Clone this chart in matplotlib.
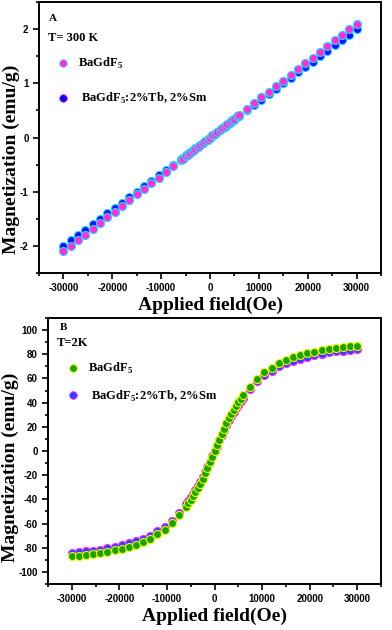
import matplotlib
matplotlib.use("Agg")
import matplotlib.pyplot as plt
from matplotlib.ticker import MultipleLocator, AutoMinorLocator

plt.rcParams['mathtext.fontset'] = 'custom'
plt.rcParams['mathtext.rm'] = 'Liberation Serif:bold'
plt.rcParams['mathtext.bf'] = 'Liberation Serif:bold'
plt.rcParams['axes.unicode_minus'] = False

# Applied field (Oe): coarse steps outside, dense steps around zero
field = [-30000, -28500, -27000, -25500, -24000, -22500, -21000, -19500,
         -18000, -16500, -15000, -13500, -12000, -10500, -9000, -7500,
         -6000, -5500, -5000, -4500, -4000, -3500, -3000, -2500, -2000,
         -1500, -1000, -500, 0, 500, 1000, 1500, 2000, 2500, 3000, 3500,
         4000, 4500, 5000, 5500, 6000,
         7500, 9000, 10500, 12000, 13500, 15000, 16500, 18000, 19500,
         21000, 22500, 24000, 25500, 27000, 28500, 30000]

# Panel A: T = 300 K
m300_pure = [-2.10, -2.00, -1.89, -1.79, -1.68, -1.58, -1.47, -1.37,
             -1.26, -1.16, -1.05, -0.95, -0.84, -0.74, -0.63, -0.53,
             -0.42, -0.39, -0.35, -0.32, -0.28, -0.25, -0.21, -0.18, -0.14,
             -0.11, -0.07, -0.04, 0.00, 0.04, 0.07, 0.11, 0.14, 0.18, 0.21, 0.25,
             0.28, 0.32, 0.35, 0.39, 0.42,
             0.53, 0.63, 0.74, 0.84, 0.95, 1.05, 1.16, 1.26, 1.37,
             1.47, 1.58, 1.68, 1.79, 1.89, 2.00, 2.10]
m300_doped = [-2.00, -1.90, -1.80, -1.70, -1.60, -1.50, -1.40, -1.30,
              -1.20, -1.10, -1.00, -0.90, -0.80, -0.70, -0.60, -0.50,
              -0.40, -0.37, -0.33, -0.30, -0.27, -0.23, -0.20, -0.17, -0.13,
              -0.10, -0.07, -0.03, 0.00, 0.03, 0.07, 0.10, 0.13, 0.17, 0.20, 0.23,
              0.27, 0.30, 0.33, 0.37, 0.40,
              0.50, 0.60, 0.70, 0.80, 0.90, 1.00, 1.10, 1.20, 1.30,
              1.40, 1.50, 1.60, 1.70, 1.80, 1.90, 2.00]

# Panel B: T = 2 K
m2_pure = [-87.0, -86.5, -86.0, -85.0, -84.5, -83.5, -82.0, -81.0,
           -79.5, -77.5, -75.0, -72.5, -69.0, -65.0, -59.5, -53.0,
           -46.0, -43.3, -40.5, -37.3, -34.0, -30.5, -27.0, -23.0, -18.5,
           -14.0, -9.4, -4.7, 0.0, 4.7, 9.4, 14.0, 18.5, 23.0, 27.0, 30.5,
           34.0, 37.3, 40.5, 43.3, 46.0,
           53.0, 59.5, 65.0, 69.0, 72.5, 75.0, 77.5, 79.5, 81.0,
           82.0, 83.5, 84.5, 85.0, 86.0, 86.5, 87.0]
m2_doped = [-84.0, -83.5, -83.0, -82.5, -81.5, -80.5, -79.5, -78.0,
            -76.5, -74.5, -72.5, -70.0, -66.5, -62.5, -57.5, -51.0,
            -43.7, -41.1, -38.4, -35.4, -32.3, -29.0, -25.6, -21.8, -17.5,
            -13.3, -8.9, -4.4, 0.0, 4.4, 8.9, 13.3, 17.5, 21.8, 25.6, 29.0,
            32.3, 35.4, 38.4, 41.1, 43.7,
            51.0, 57.5, 62.5, 66.5, 70.0, 72.5, 74.5, 76.5, 78.0,
            79.5, 80.5, 81.5, 82.5, 83.0, 83.5, 84.0]

label_pure = r'BaGdF$_5$'
label_doped = r' BaGdF$_5$:2%Tb, 2%Sm'

serif = 'Liberation Serif'
sans = 'Liberation Sans'

fig = plt.figure(figsize=(3.92, 6.30), dpi=100)


def style_axes(ax):
    for sp in ax.spines.values():
        sp.set_linewidth(1.4)
    ax.tick_params(which='both', direction='out', top=False, right=False, width=1.2)
    ax.tick_params(which='major', length=4)
    ax.tick_params(which='minor', length=2.5)
    ax.xaxis.set_major_locator(MultipleLocator(10000))
    ax.xaxis.set_minor_locator(AutoMinorLocator(2))
    ax.yaxis.set_minor_locator(AutoMinorLocator(2))
    ax.set_xlim(-35000, 35000)
    for lab in ax.get_xticklabels() + ax.get_yticklabels():
        lab.set_fontfamily(sans)
        lab.set_fontweight('bold')
        lab.set_fontsize(7)
    ax.set_xlabel('Applied field(Oe)', family=serif, weight='bold', fontsize=14, labelpad=2)
    ax.set_ylabel('Magnetization (emu/g)', family=serif, weight='bold', fontsize=14)


# ---- Panel A ----
axA = fig.add_axes([39/392, 1-273/630, 342/392, 271/630])
axA.plot(field, m300_doped, 'o', ms=5.8, mfc='#1010ff', mec='#30d0ff', mew=0.8)
axA.plot(field, m300_pure, 'o', ms=5.8, mfc='#ff30d8', mec='#30d0ff', mew=0.8)
axA.set_ylim(-2.5, 2.5)
axA.yaxis.set_major_locator(MultipleLocator(1))
style_axes(axA)
axA.yaxis.set_label_coords(-0.057, 0.42)
axA.text(0.028, 0.94, 'A', transform=axA.transAxes, family=serif, weight='bold', fontsize=8, va='center')
axA.text(0.026, 0.867, 'T= 300 K', transform=axA.transAxes, family=serif, weight='bold', fontsize=9, va='center')
legA_pure = plt.Line2D([], [], ls='', marker='o', ms=5.5, mfc='#ff30d8', mec='#30e0ff', mew=0.6)
legA_doped = plt.Line2D([], [], ls='', marker='o', ms=5.5, mfc='#0000ff', mec='#ff30d8', mew=0.6)
axA.legend([legA_pure, legA_doped], [label_pure, label_doped], loc='upper left',
           bbox_to_anchor=(0.015, 0.842), frameon=False, labelspacing=1.6,
           handletextpad=0.6, handlelength=1.2, prop={'family': serif, 'weight': 'bold', 'size': 9})

# ---- Panel B ----
axB = fig.add_axes([48/392, 1-584/630, 333/392, 266/630])
axB.plot(field, m2_doped, 'o', ms=5.8, mfc='#3040ff', mec='#ff30ff', mew=0.8)
axB.plot(field, m2_pure, 'o', ms=5.8, mfc='#20a000', mec='#e0ff00', mew=0.8)
axB.set_ylim(-110, 110)
axB.yaxis.set_major_locator(MultipleLocator(20))
style_axes(axB)
axB.yaxis.set_label_coords(-0.086, 0.44)
axB.text(0.036, 0.966, 'B', transform=axB.transAxes, family=serif, weight='bold', fontsize=8, va='center')
axB.text(0.027, 0.906, 'T=2K', transform=axB.transAxes, family=serif, weight='bold', fontsize=9, va='center')
legB_pure = plt.Line2D([], [], ls='', marker='o', ms=5.5, mfc='#20a000', mec='#e0ff00', mew=0.6)
legB_doped = plt.Line2D([], [], ls='', marker='o', ms=5.5, mfc='#3040ff', mec='#ff30ff', mew=0.6)
axB.legend([legB_pure, legB_doped], [label_pure, label_doped], loc='upper left',
           bbox_to_anchor=(0.02, 0.88), frameon=False, labelspacing=1.0,
           handletextpad=0.6, handlelength=1.2, prop={'family': serif, 'weight': 'bold', 'size': 9})

fig.savefig('out.png', dpi=100)
